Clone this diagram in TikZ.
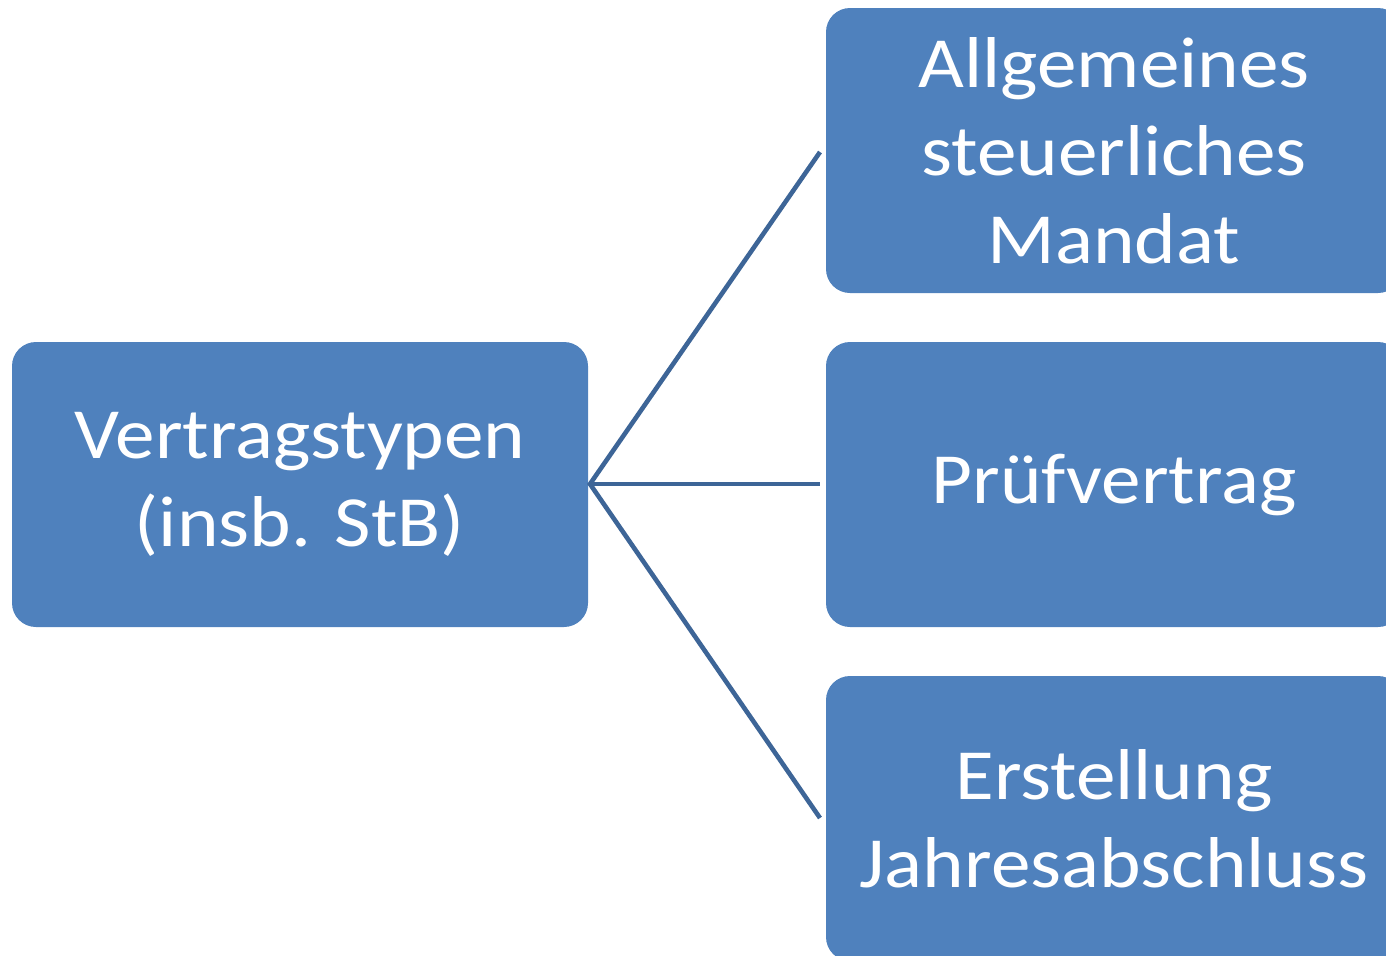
\documentclass[tikz,border=0pt]{standalone}
\usepackage{fontspec}
\setmainfont{Carlito}[FakeStretch=1.1]
\definecolor{boxblue}{HTML}{4F81BD}
\definecolor{lineblue}{HTML}{3D6597}
\begin{document}
\begin{tikzpicture}[x=0.5pt,y=-0.5pt,
  box/.style={fill=boxblue, rounded corners=12pt, minimum width=288pt, minimum height=142.5pt,
    text=white, align=center, inner sep=0pt, font=\fontsize{36}{44}\selectfont},
  conn/.style={draw=lineblue, line width=2.3pt}]
\path[use as bounding box, clip] (0,0) rectangle (1386,955);
\node[box] (root) at (300,484.5) {Vertragstypen\\(insb. StB)};
\node[box] (a) at (1114,150.5) {Allgemeines\\steuerliches\\Mandat};
\node[box] (b) at (1114,484.5) {Prüfvertrag};
\node[box] (c) at (1114,818.5) {Erstellung\\Jahresabschluss};
\coordinate (s) at (590,484);
\coordinate (ea) at (820,152);
\coordinate (eb) at (820,484);
\coordinate (ec) at (820,818);
\draw[conn] (ea) -- (s) -- (ec);
\draw[conn] (s) -- (eb);
\end{tikzpicture}
\end{document}
